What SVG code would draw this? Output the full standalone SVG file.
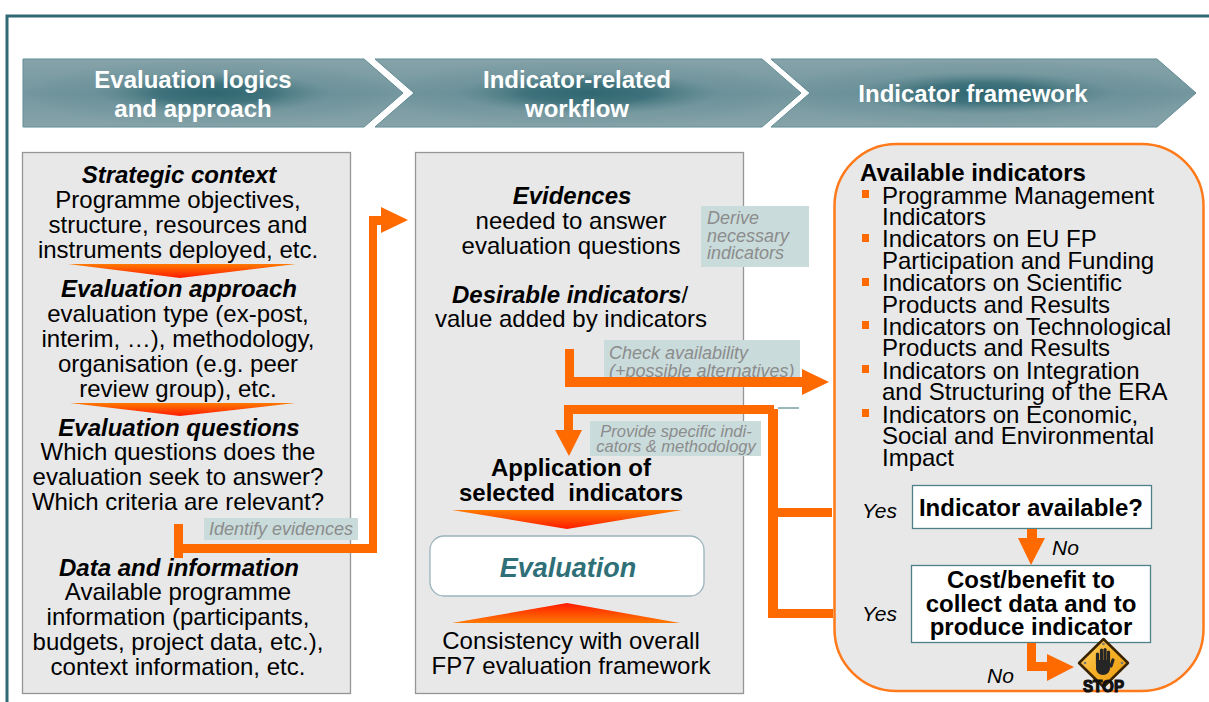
<svg xmlns="http://www.w3.org/2000/svg" width="1209" height="702" viewBox="0 0 1209 702">
<style>
text{font-family:"Liberation Sans",Arial,sans-serif;fill:#000}
.b{font-size:24px;text-anchor:middle}
.h{font-size:24px;text-anchor:middle;font-weight:bold;font-style:italic}
.bb{font-size:24px;text-anchor:middle;font-weight:bold;white-space:pre}
.t{font-size:24px;text-anchor:middle;font-weight:bold;fill:#fff}
.l{font-size:18px;font-style:italic;fill:#8c8c8c}
.y{font-size:21px;font-style:italic}
.li{font-size:24px}
.panel{fill:#e8e8e8;stroke:#969696;stroke-width:1.3}
.note{fill:#c9dbdb}
.or{fill:#ff6a00}
.box{fill:#fff;stroke:#4f8088;stroke-width:1.3}
.sq{fill:#ff6a00}
.ch{fill:url(#v);stroke:#5b8891}
.gl{fill:url(#g)}
</style>
<defs>
<linearGradient id="v" x1="0" y1="0" x2="0" y2="1"><stop offset="0" stop-color="#86a3a9"/><stop offset="0.5" stop-color="#6f949c"/><stop offset="1" stop-color="#86a3a9"/></linearGradient>
<radialGradient id="g" cx="0.5" cy="0.5" r="0.5">
<stop offset="0" stop-color="#2f6771" stop-opacity="1"/><stop offset="0.3" stop-color="#2f6771" stop-opacity="0.75"/><stop offset="0.62" stop-color="#4f7d86" stop-opacity="0.12"/><stop offset="1" stop-color="#86a3a9" stop-opacity="0.25"/>
</radialGradient>
<linearGradient id="dn" x1="0" y1="0" x2="0" y2="1"><stop offset="0" stop-color="#ff7a00"/><stop offset="1" stop-color="#ff1a00"/></linearGradient>
<linearGradient id="up" x1="0" y1="1" x2="0" y2="0"><stop offset="0" stop-color="#ff7a00"/><stop offset="1" stop-color="#ff1a00"/></linearGradient>
<linearGradient id="st" x1="0" y1="0" x2="1" y2="1"><stop offset="0" stop-color="#ffd870"/><stop offset="0.5" stop-color="#f6b026"/><stop offset="1" stop-color="#e99a10"/></linearGradient>
</defs>
<path d="M7 702V16H1209" fill="none" stroke="#2f6a74" stroke-width="3"/>
<g id="head1"><path class="ch" d="M23 59H364L403 93L364 127H23Z"/><path class="gl" d="M23 59H364L403 93L364 127H23Z"/><text class="t" x="193" y="88">Evaluation logics</text><text class="t" x="193" y="117">and approach</text></g>
<g id="head2"><path class="ch" d="M375 59H762L801 93L762 127H375L414 93Z"/><path class="gl" d="M375 59H762L801 93L762 127H375L414 93Z"/><text class="t" x="577" y="88">Indicator-related</text><text class="t" x="577" y="117">workflow</text></g>
<g id="head3"><path class="ch" d="M771 59H1157L1196 93L1157 127H771L810 93Z"/><path class="gl" d="M771 59H1157L1196 93L1157 127H771L810 93Z"/><text class="t" x="973" y="102">Indicator framework</text></g>
<g id="left-panel"><rect class="panel" x="22.500" y="152.500" width="328" height="541"/>
<text class="h" x="179" y="183">Strategic context</text>
<text class="b" x="178" y="208">Programme objectives,</text>
<text class="b" x="178" y="233">structure, resources and</text>
<text class="b" x="178" y="258">instruments deployed, etc.</text>
<path d="M68 264H296L180 278Z" fill="url(#dn)"/>
<text class="h" x="179" y="297">Evaluation approach</text>
<text class="b" x="178" y="322">evaluation type (ex-post,</text>
<text class="b" x="178" y="347">interim, …), methodology,</text>
<text class="b" x="178" y="372">organisation (e.g. peer</text>
<text class="b" x="178" y="397">review group), etc.</text>
<path d="M70 403H295L180 416Z" fill="url(#dn)"/>
<text class="h" x="179" y="436">Evaluation questions</text>
<text class="b" x="178" y="460">Which questions does the</text>
<text class="b" x="178" y="485">evaluation seek to answer?</text>
<text class="b" x="178" y="510">Which criteria are relevant?</text>
<text class="h" x="179" y="576">Data and information</text>
<text class="b" x="178" y="600">Available programme</text>
<text class="b" x="178" y="625">information (participants,</text>
<text class="b" x="178" y="650">budgets, project data, etc.),</text>
<text class="b" x="178" y="675">context information, etc.</text>
</g>
<g id="mid-panel"><rect class="panel" x="415.500" y="152.500" width="328" height="541"/>
<text class="h" x="572" y="204">Evidences</text>
<text class="b" x="571" y="229">needed to answer</text>
<text class="b" x="571" y="254">evaluation questions</text>
<text class="h" x="570" y="303">Desirable indicators<tspan font-weight="normal" font-style="normal">/</tspan></text>
<text class="b" x="571" y="327">value added by indicators</text>
<text class="bb" x="571" y="476">Application of</text>
<text class="bb" x="571" y="501">selected  indicators</text>
<path d="M452 510H682L567 529Z" fill="url(#dn)"/>
<rect x="430" y="536" width="274" height="60" rx="14" fill="#fff" stroke="#9ab3bd" stroke-width="1.300"/>
<text x="568" y="577" text-anchor="middle" font-size="27" font-weight="bold" font-style="italic" style="fill:#2e6f78">Evaluation</text>
<path d="M452 623H680L567 603Z" fill="url(#up)"/>
<text class="b" x="571" y="649">Consistency with overall</text>
<text class="b" x="571" y="674">FP7 evaluation framework</text>
</g>
<g id="right-panel"><rect x="834.500" y="144" width="369" height="547" rx="62" fill="#e8e8e8" stroke="#ff7a1a" stroke-width="2.500"/>
<text x="860" y="181" font-size="24" font-weight="bold">Available indicators</text>
<g id="bullets">
<rect class="sq" x="862" y="190" width="7" height="8"/><text class="li" x="882" y="204">Programme Management</text><text class="li" x="882" y="225">Indicators</text>
<rect class="sq" x="862" y="234" width="7" height="8"/><text class="li" x="882" y="247">Indicators on EU FP</text><text class="li" x="882" y="269">Participation and Funding</text>
<rect class="sq" x="862" y="278" width="7" height="8"/><text class="li" x="882" y="291">Indicators on Scientific</text><text class="li" x="882" y="313">Products and Results</text>
<rect class="sq" x="862" y="321" width="7" height="8"/><text class="li" x="882" y="335">Indicators on Technological</text><text class="li" x="882" y="356">Products and Results</text>
<rect class="sq" x="862" y="365" width="7" height="8"/><text class="li" x="882" y="379">Indicators on Integration</text><text class="li" x="882" y="400">and Structuring of the ERA</text>
<rect class="sq" x="862" y="409" width="7" height="8"/><text class="li" x="882" y="423">Indicators on Economic,</text><text class="li" x="882" y="444">Social and Environmental</text><text class="li" x="882" y="466">Impact</text>
</g>
</g>
<g id="q1"><rect class="box" x="912.500" y="485.500" width="239" height="43"/><text class="bb" x="1031" y="516">Indicator available?</text></g>
<g id="q2"><rect class="box" x="911.500" y="565.500" width="239" height="77"/><text class="bb" x="1031" y="588">Cost/benefit to</text><text class="bb" x="1031" y="612">collect data and to</text><text class="bb" x="1031" y="635">produce indicator</text></g>
<g id="labels">
<text class="y" x="862" y="518">Yes</text><text class="y" x="862" y="621">Yes</text><text class="y" x="1052" y="555">No</text><text class="y" x="987" y="683">No</text>
</g>
<g id="notes">
<rect class="note" x="204" y="518" width="154" height="22"/><text class="l" x="209" y="535">Identify evidences</text>
<rect class="note" x="701" y="206" width="108" height="61"/><text class="l" x="707" y="224">Derive</text><text class="l" x="707" y="242">necessary</text><text class="l" x="707" y="259">indicators</text>
<rect class="note" x="604" y="340" width="196" height="39"/><text class="l" x="609" y="359">Check availability</text><text class="l" x="609" y="377">(+possible alternatives)</text>
<rect class="note" x="590" y="421" width="171" height="35"/><text class="l" x="676" y="437" text-anchor="middle" style="font-size:16.500px">Provide specific indi-</text><text class="l" x="676" y="452" text-anchor="middle" style="font-size:16.500px">cators &amp; methodology</text>
</g>
<g id="connectors">
<path class="or" d="M174 524H183V544H369V216H381V207L408 220L381 233V225H377V553H183V558H174Z"/>
<path class="or" d="M565 349H574V377H802V369L829 382L802 395V387H565Z"/>
<path d="M778 408H799" stroke="#37707a" stroke-width="1" fill="none"/>
<path class="or" d="M564 405H774V409H778V508H832V517H778V609H833V618H768V414H573V430H582L569 456L555 430H564Z"/>
<path class="or" d="M1027 529H1037V538H1045L1031 565L1018 538H1027Z"/>
<path class="or" d="M1027 643H1036V662H1047V654L1074 667L1047 681V671H1027Z"/>
</g>
<g id="stop">
<path d="M1103.500 639L1128 663L1103.500 687L1079 663Z" fill="url(#st)" stroke="#3a2400" stroke-width="2.500" stroke-linejoin="round"/>
<g fill="#777"><circle cx="1103.500" cy="644" r="1.300"/><circle cx="1085" cy="663" r="1.300"/><circle cx="1122" cy="663" r="1.300"/></g>
<g stroke="#262626" stroke-width="3.200" stroke-linecap="round" fill="none"><path d="M1097.500 664V654"/><path d="M1101.500 662V650"/><path d="M1105 662V649.500"/><path d="M1108.500 664V652"/><path d="M1111 666L1113 660"/></g>
<path d="M1096 660H1110V668C1110 672 1107 675 1103 675C1099 675 1096 672 1096 668Z" fill="#262626"/>
<text x="1103.500" y="692" text-anchor="middle" font-size="16.500" font-weight="bold" textLength="41" lengthAdjust="spacingAndGlyphs" style="fill:#111;stroke:#111;stroke-width:1.200">STOP</text>
</g>
</svg>
